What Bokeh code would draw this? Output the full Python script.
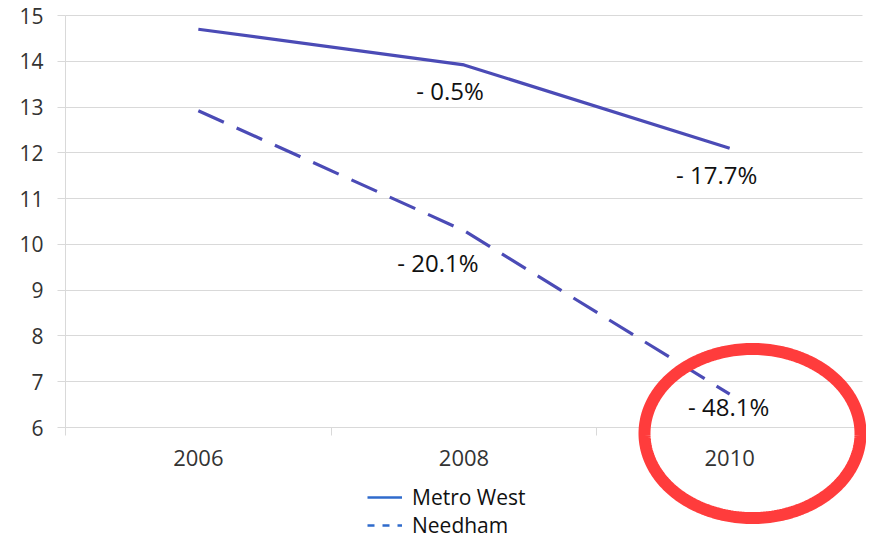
import numpy as np
from bokeh.plotting import figure
from bokeh.models import (Range1d, FixedTicker, ColumnDataSource, LinearAxis, Grid,
                          Legend, LegendItem, PolyAnnotation)
from bokeh.core.properties import value
from bokeh.embed import file_html
from bokeh.resources import INLINE

# ---- data ----
years = ["2006", "2008", "2010"]
metro_west = [14.70, 13.92, 12.10]
needham = [12.92, 10.30, 6.73]
metro_labels = ["", "- 0.5%", "- 17.7%"]
needham_labels = ["", "- 20.1%", "- 48.1%"]
y_ticks = [6, 7, 8, 9, 10, 11, 12, 13, 14, 15]

FONT = "Open Sans"
GRID = "#d9d9d9"
SERIES = "#4b4bb6"
LEGEND_BLUE = "#2f6bcc"
TICK_TEXT = "#333333"

# category slots: each year occupies one unit; its centre is at i + 0.5
n = len(years)
xc = [i + 0.5 for i in range(n)]
W, H = 866, 539
X0, X1 = 65, 862       # px of category band edges
Y15, Y6 = 15, 427      # px of the 15 and 6 grid lines
PX_X = (X1 - X0) / n
PX_Y = (Y6 - Y15) / 9

p = figure(width=W, height=H,
           x_range=Range1d(-X0 / PX_X, n + (W - X1) / PX_X),
           y_range=Range1d(6 - (H - Y6) / PX_Y, 15 + Y15 / PX_Y),
           output_backend="svg", toolbar_location=None,
           x_axis_location=None, y_axis_location=None,
           min_border=0, min_border_left=0, min_border_right=0,
           min_border_top=0, min_border_bottom=0)
p.outline_line_color = None
p.xgrid.visible = False
p.ygrid.visible = False

grid = Grid(dimension=1, ticker=FixedTicker(ticks=y_ticks), grid_line_color=GRID,
            cross_bounds=(0, n))
p.add_layout(grid)

# y axis
ya = LinearAxis(ticker=FixedTicker(ticks=y_ticks), fixed_location=0, bounds=(6, 15))
ya.axis_line_color = GRID
ya.major_tick_line_color = GRID
ya.major_tick_out = 8
ya.major_tick_in = 0
ya.minor_tick_line_color = None
ya.major_label_text_font = FONT
ya.major_label_text_font_size = "21px"
ya.major_label_text_color = TICK_TEXT
ya.major_label_standoff = 14
p.add_layout(ya, "left")

# x axis: category boundary ticks
ta = LinearAxis(ticker=FixedTicker(ticks=list(range(n + 1))), fixed_location=6, bounds=(0, n))
ta.axis_line_color = GRID
ta.major_tick_line_color = GRID
ta.major_tick_out = 8
ta.major_tick_in = 0
ta.minor_tick_line_color = None
ta.major_label_text_color = None
p.add_layout(ta, "below")

# x axis: category labels
xa = LinearAxis(ticker=FixedTicker(ticks=xc), fixed_location=6, bounds=(0, n),
                major_label_overrides={c: y for c, y in zip(xc, years)})
xa.axis_line_color = None
xa.major_tick_line_color = None
xa.minor_tick_line_color = None
xa.major_tick_out = 0
xa.major_tick_in = 0
xa.major_label_text_font = FONT
xa.major_label_text_font_size = "22px"
xa.major_label_text_color = TICK_TEXT
xa.major_label_standoff = 22
p.add_layout(xa, "below")

src = ColumnDataSource(dict(x=xc, mw=metro_west, nd=needham))
p.line("x", "mw", source=src, line_color=SERIES, line_width=3.2)
p.line("x", "nd", source=src, line_color=SERIES, line_width=3.2, line_dash="28 14")

mw_dx = [0, -14, -13]
mw_dy = [0, 26, 26]
nd_dx = [0, -26, -1]
nd_dy = [0, 32, 12]
lab_src = ColumnDataSource(dict(x=xc + xc, y=metro_west + needham,
                                t=metro_labels + needham_labels,
                                dx=mw_dx + nd_dx, dy=mw_dy + nd_dy))
p.text("x", "y", text="t", source=lab_src, x_offset="dx", y_offset="dy",
       text_font=value(FONT), text_font_size="24px", text_color="#111111",
       text_align="center", text_baseline="middle")

# legend swatches (no visible marks in the plot)
nan = float("nan")
r_mw = p.line(x=[nan], y=[nan], line_color=LEGEND_BLUE, line_width=2.5)
r_nd = p.line(x=[nan], y=[nan], line_color=LEGEND_BLUE, line_width=2.5, line_dash="7 8")
legend = Legend(items=[LegendItem(label="Metro West", renderers=[r_mw]),
                       LegendItem(label="Needham", renderers=[r_nd])],
                location=(367, 0), orientation="vertical")
legend.border_line_color = None
legend.background_fill_alpha = 0
legend.padding = 0
legend.margin = 0
legend.spacing = 0
legend.glyph_width = 35
legend.glyph_height = 20
legend.label_height = 20
legend.label_standoff = 10
legend.label_text_font = FONT
legend.label_text_font_size = "21px"
legend.label_text_color = "#111111"
p.add_layout(legend, "center")

# highlight ellipse around 2010
t = np.linspace(0, 2 * np.pi, 241)
cx, cy = (752 - X0) / PX_X, 15 - (433 - Y15) / PX_Y
rx, ry = 108 / PX_X, 84.5 / PX_Y
p.add_layout(PolyAnnotation(xs=list(cx + rx * np.cos(t)), ys=list(cy + ry * np.sin(t)),
                            fill_alpha=0, line_alpha=1, line_color="#ff3c3c", line_width=12))

open("out.html", "w").write(file_html(p, INLINE))
